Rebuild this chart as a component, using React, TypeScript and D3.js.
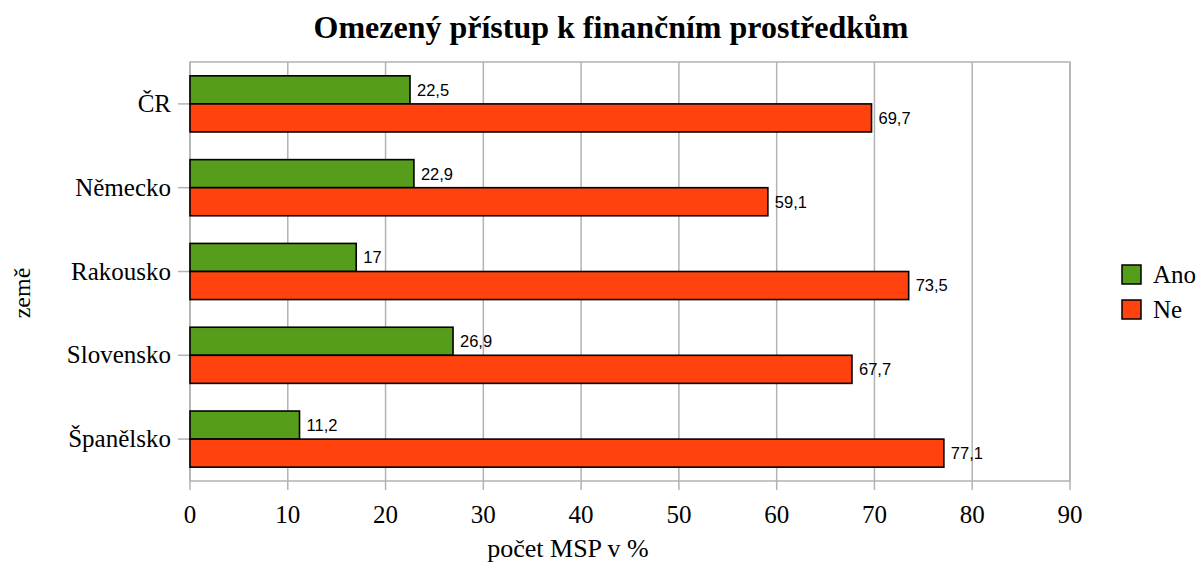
import React, { useEffect, useRef } from 'react';
import * as d3 from 'd3';

const countries = ['ČR', 'Německo', 'Rakousko', 'Slovensko', 'Španělsko'];
const anoValues = [22.5, 22.9, 17, 26.9, 11.2];
const neValues = [69.7, 59.1, 73.5, 67.7, 77.1];
const seriesNames = ['Ano', 'Ne'];
const seriesColors = ['#579d1c', '#ff420e'];
const xTicks = [0, 10, 20, 30, 40, 50, 60, 70, 80, 90];

const App = () => {
  const chartRef = useRef(null);

  useEffect(() => {
    document.body.style.margin = '0';
    const width = 1200;
    const height = 569;
    const left = 190, right = 1070, top = 62, bottom = 481;
    const serif = '"Liberation Serif", "Times New Roman", serif';
    const sans = '"Liberation Sans", Arial, sans-serif';

    const x = d3.scaleLinear().domain([0, 90]).range([left, right]);
    const y = d3.scaleBand().domain(countries).range([top, bottom])
      .paddingInner(0.33).paddingOuter(0.165);
    const y1 = d3.scaleBand().domain(seriesNames).range([0, y.bandwidth()]);

    const svg = d3.create('svg')
      .attr('width', width)
      .attr('height', height)
      .attr('style', 'display:block; background:#fff;');

    // grid
    svg.append('g')
      .selectAll('line')
      .data(xTicks)
      .join('line')
      .attr('x1', d => x(d)).attr('x2', d => x(d))
      .attr('y1', top).attr('y2', bottom + 9)
      .attr('stroke', '#b3b3b3').attr('stroke-width', 1.5);

    svg.append('rect')
      .attr('x', left).attr('y', top)
      .attr('width', right - left).attr('height', bottom - top)
      .attr('fill', 'none').attr('stroke', '#b3b3b3').attr('stroke-width', 1.5);

    // category ticks
    svg.append('g')
      .selectAll('line')
      .data(countries)
      .join('line')
      .attr('x1', left - 12).attr('x2', left)
      .attr('y1', d => y(d) + y.bandwidth() / 2)
      .attr('y2', d => y(d) + y.bandwidth() / 2)
      .attr('stroke', '#b3b3b3').attr('stroke-width', 1.5);

    const rows = countries.map((c, i) => ({ c, vals: [anoValues[i], neValues[i]] }));

    const group = svg.append('g')
      .selectAll('g')
      .data(rows)
      .join('g')
      .attr('transform', d => `translate(0,${y(d.c)})`);

    group.selectAll('rect')
      .data(d => d.vals.map((v, k) => ({ v, k })))
      .join('rect')
      .attr('x', x(0))
      .attr('y', d => y1(seriesNames[d.k]))
      .attr('width', d => x(d.v) - x(0))
      .attr('height', y1.bandwidth())
      .attr('fill', d => seriesColors[d.k])
      .attr('stroke', '#000').attr('stroke-width', 1.6);

    group.selectAll('text')
      .data(d => d.vals.map((v, k) => ({ v, k })))
      .join('text')
      .attr('x', d => x(d.v) + 7)
      .attr('y', d => y1(seriesNames[d.k]) + y1.bandwidth() / 2)
      .attr('dy', '0.36em')
      .attr('font-family', sans)
      .attr('font-size', 16.5)
      .text(d => String(d.v).replace('.', ','));

    // category labels
    svg.append('g')
      .selectAll('text')
      .data(countries)
      .join('text')
      .attr('x', 171)
      .attr('y', d => y(d) + y.bandwidth() / 2)
      .attr('dy', '0.32em')
      .attr('text-anchor', 'end')
      .attr('font-family', serif)
      .attr('font-size', 25)
      .text(d => d);

    // x tick labels
    svg.append('g')
      .selectAll('text')
      .data(xTicks)
      .join('text')
      .attr('x', d => x(d))
      .attr('y', 523)
      .attr('text-anchor', 'middle')
      .attr('font-family', serif)
      .attr('font-size', 25)
      .text(d => d);

    svg.append('text')
      .attr('x', 568).attr('y', 557)
      .attr('text-anchor', 'middle')
      .attr('font-family', serif).attr('font-size', 26)
      .text('počet MSP v %');

    svg.append('text')
      .attr('transform', 'translate(30,293) rotate(-90)')
      .attr('text-anchor', 'middle')
      .attr('font-family', serif).attr('font-size', 24)
      .text('země');

    svg.append('text')
      .attr('x', 611).attr('y', 38)
      .attr('text-anchor', 'middle')
      .attr('font-family', serif).attr('font-size', 32)
      .attr('font-weight', 'bold')
      .text('Omezený přístup k finančním prostředkům');

    // legend
    const legend = svg.append('g')
      .selectAll('g')
      .data(seriesNames)
      .join('g')
      .attr('transform', (d, i) => `translate(1122,${265 + i * 35})`);

    legend.append('rect')
      .attr('width', 19).attr('height', 19)
      .attr('fill', (d, i) => seriesColors[i])
      .attr('stroke', '#000').attr('stroke-width', 1.5);

    legend.append('text')
      .attr('x', 31).attr('y', 18)
      .attr('font-family', serif).attr('font-size', 25)
      .text(d => d);

    chartRef.current.innerHTML = '';
    chartRef.current.appendChild(svg.node());
  }, []);

  return <div ref={chartRef}></div>;
};

export default App;
